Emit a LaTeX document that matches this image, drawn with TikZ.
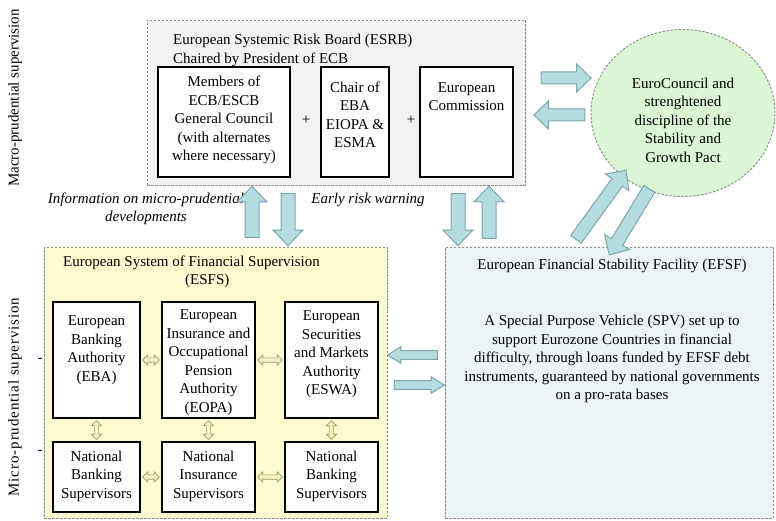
\documentclass[tikz,border=0pt]{standalone}
\usepackage{fontspec}
\setmainfont{Liberation Serif}
\usetikzlibrary{shapes.arrows,shapes.geometric,calc}
\definecolor{esrbfill}{HTML}{F2F2F2}
\definecolor{esfsfill}{HTML}{FFFBD0}
\definecolor{efsffill}{HTML}{ECF4F7}
\definecolor{ellfill}{HTML}{DAF6D5}
\definecolor{dashgray}{HTML}{8C8C8C}
\definecolor{arrfill}{HTML}{B5DCE1}
\definecolor{arrdraw}{HTML}{7AA8AE}
\definecolor{olivedraw}{HTML}{9C9C6A}
\definecolor{olivefill}{HTML}{F4F0C0}
\newcommand{\blockarr}[3][]{%
  \path let \p1=($(#3)-(#2)$), \n1={veclen(\x1,\y1)}, \n2={atan2(\y1,\x1)} in
    node[blockarrow, minimum height=\n1, rotate=\n2, #1] at ($(#2)!0.5!(#3)$) {};}
\newcommand{\smallarr}[3][]{%
  \path let \p1=($(#3)-(#2)$), \n1={veclen(\x1,\y1)-4}, \n2={atan2(\y1,\x1)} in
    node[smallarrow, minimum height=\n1, rotate=\n2, #1] at ($(#2)!0.5!(#3)$) {};}
\begin{document}
\begin{tikzpicture}[x=1pt,y=-1pt,
  panel/.style={draw=dashgray, dash pattern=on 2.5pt off 1.5pt, line width=0.9pt, inner sep=0pt},
  box/.style={draw=black, line width=1.3pt, fill=white, inner sep=0pt},
  txt/.style={font=\fontsize{15}{18.5}\selectfont, align=center, inner sep=0pt},
  itxt/.style={font=\fontsize{15}{18.5}\selectfont\itshape, align=center, inner sep=0pt},
  blockarrow/.style={single arrow, draw=arrdraw, fill=arrfill, line width=1pt,
    inner xsep=0pt, inner ysep=5.5pt, single arrow head extend=8pt, single arrow tip angle=88},
  smallarrow/.style={double arrow, draw=olivedraw, fill=olivefill, line width=0.7pt,
    inner xsep=0pt, inner ysep=1.8pt, double arrow head extend=3pt, double arrow tip angle=90}]
\useasboundingbox (0,0) rectangle (776,521);

% panels
\node[panel, fill=esrbfill, minimum width=378pt, minimum height=165pt] (esrb) at (336,102.5) {};
\node[panel, fill=esfsfill, minimum width=343pt, minimum height=271pt] (esfs) at (215.5,382.5) {};
\node[panel, fill=efsffill, minimum width=328pt, minimum height=271pt] (efsf) at (609,382.5) {};
\node[panel, ellipse, fill=ellfill, minimum width=184pt, minimum height=167pt] (euro) at (683,113) {};

% side labels
\node[txt, rotate=90] (macrolbl) at (15,98) {Macro-prudential supervision};
\node[txt, rotate=90, font=\fontsize{15}{18.5}\selectfont\addfontfeature{LetterSpace=6}] (microlbl) at (15,397) {Micro-prudential supervision};
\node[txt] (tick1) at (40,360) {-};
\node[txt] (tick2) at (40,452) {-};

% ESRB
\node[txt, align=left, anchor=west] (esrbtitle) at (173,50.5) {European Systemic Risk Board (ESRB)\\Chaired by President of ECB};
\node[box, minimum width=132pt, minimum height=110pt] (members) at (224,122) {};
\node[box, minimum width=68pt, minimum height=110pt] (chair) at (355,122) {};
\node[box, minimum width=93pt, minimum height=110pt] (ec) at (466.5,122) {};
\node[txt] (memtxt) at (224,120) {Members of\\ECB/ESCB\\General Council\\(with alternates\\where necessary)};
\node[txt] (chairtxt) at (355,115) {Chair of\\EBA\\EIOPA \&\\ESMA};
\node[txt] (ectxt) at (466.5,96.5) {European\\Commission};
\node[txt] (plus1) at (306,120) {+};
\node[txt] (plus2) at (411,120) {+};

% EuroCouncil
\node[txt] (eurotxt) at (683,120) {EuroCouncil and\\strenghtened\\discipline of the\\Stability and\\Growth Pact};

% ESFS
\node[txt, align=left, anchor=west] (esfstitle) at (63,272) {European System of Financial Supervision\\\hspace*{122pt}(ESFS)};
\node[box, minimum width=87pt, minimum height=116pt] (eba) at (96.5,360) {};
\node[box, minimum width=93pt, minimum height=116pt] (eopa) at (208.5,360) {};
\node[box, minimum width=93pt, minimum height=116pt] (eswa) at (331.5,360) {};
\node[box, minimum width=87pt, minimum height=70pt] (nbs) at (96.5,477) {};
\node[box, minimum width=93pt, minimum height=70pt] (nis) at (208.5,477) {};
\node[box, minimum width=93pt, minimum height=70pt] (nbs2) at (331.5,477) {};
\node[txt] (ebatxt) at (96.5,350) {European\\Banking\\Authority\\(EBA)};
\node[txt] (eopatxt) at (208.5,362.5) {European\\Insurance and\\Occupational\\Pension\\Authority\\(EOPA)};
\node[txt] (eswatxt) at (331.5,354.5) {European\\Securities\\and Markets\\Authority\\(ESWA)};
\node[txt] (nbstxt) at (96.5,476) {National\\Banking\\Supervisors};
\node[txt] (nistxt) at (208.5,476) {National\\Insurance\\Supervisors};
\node[txt] (nbs2txt) at (331.5,476) {National\\Banking\\Supervisors};

% EFSF
\node[txt] (efsftitle) at (612,266) {European Financial Stability Facility (EFSF)};
\node[txt] (efsftxt) at (612,359) {A Special Purpose Vehicle (SPV) set up to\\support Eurozone Countries in financial\\difficulty, through loans funded by EFSF debt\\instruments, guaranteed by national governments\\on a pro-rata bases};

% italic labels
\node[itxt] (infolbl) at (146,209) {Information on micro-prudential\\developments};
\node[itxt] (earlylbl) at (368,200) {Early risk warning};

% small double arrows
\smallarr[name=d1]{eba.east}{eopa.west}
\smallarr[name=d2]{eopa.east}{eswa.west}
\smallarr[name=d3]{nbs.east}{nis.west}
\smallarr[name=d4]{nis.east}{nbs2.west}
\smallarr[name=d5]{eba.south}{nbs.north}
\smallarr[name=d6]{eopa.south}{nis.north}
\smallarr[name=d7]{eswa.south}{nbs2.north}

% block arrow end points
\coordinate (a1s) at (538,78);  \coordinate (a1e) at (588,78);
\coordinate (a2s) at (588,115); \coordinate (a2e) at (537,115);
\coordinate (a3s) at (252,241); \coordinate (a3e) at (252,190);
\coordinate (a4s) at (288,190); \coordinate (a4e) at (288,242);
\coordinate (a5s) at (458,190); \coordinate (a5e) at (458,242);
\coordinate (a6s) at (489,242); \coordinate (a6e) at (489,190);
\coordinate (a7s) at (441,355); \coordinate (a7e) at (391,355);
\coordinate (a8s) at (391,385); \coordinate (a8e) at (441,385);
\coordinate (a9s) at (574,242); \coordinate (a9e) at (624,173);
\coordinate (a10s) at (651,186); \coordinate (a10e) at (611,252);

\blockarr[name=b1]{a1s}{a1e}
\blockarr[name=b2]{a2s}{a2e}
\blockarr[name=b3, inner ysep=6.5pt]{a3s}{a3e}
\blockarr[name=b4, inner ysep=6.5pt]{a4s}{a4e}
\blockarr[name=b5, inner ysep=6.5pt]{a5s}{a5e}
\blockarr[name=b6, inner ysep=6.5pt]{a6s}{a6e}
\blockarr[name=b7, inner ysep=3.8pt, single arrow head extend=4pt, single arrow tip angle=64]{a7s}{a7e}
\blockarr[name=b8, inner ysep=3.8pt, single arrow head extend=4pt, single arrow tip angle=64]{a8s}{a8e}
\blockarr[name=b9, inner ysep=6pt]{a9s}{a9e}
\blockarr[name=b10, inner ysep=6pt]{a10s}{a10e}
\end{tikzpicture}
\end{document}
